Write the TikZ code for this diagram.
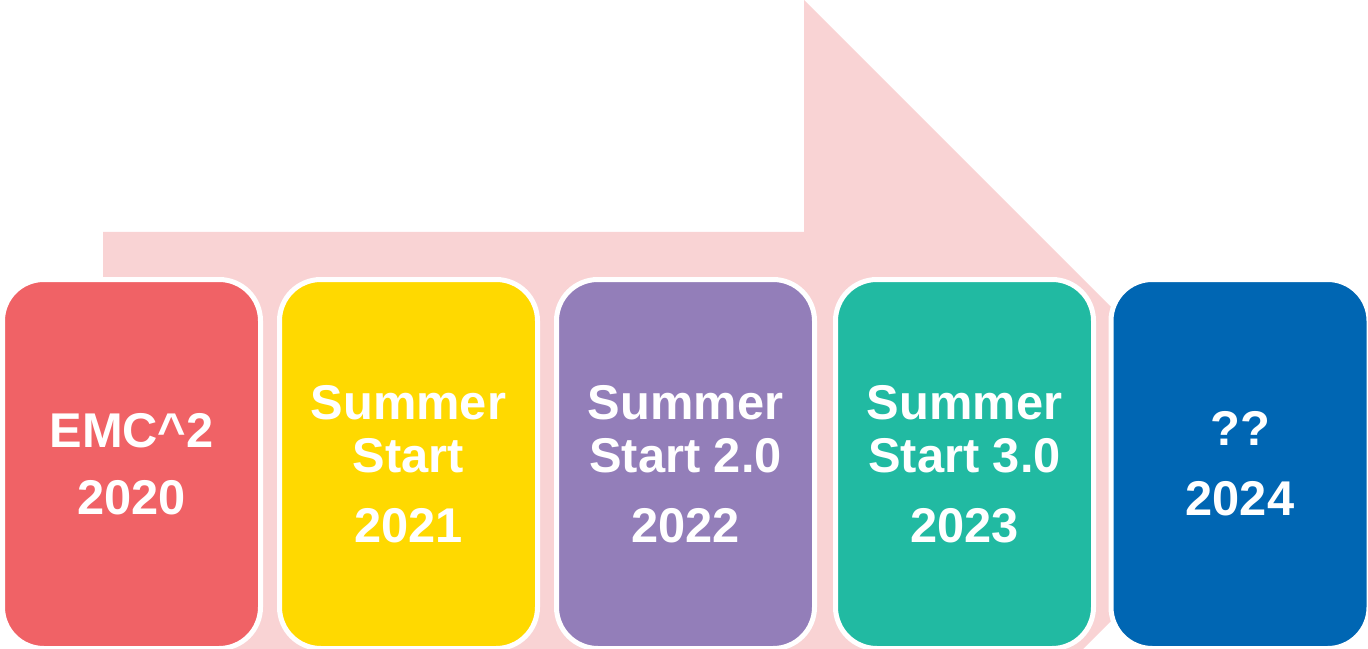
\documentclass[tikz,border=0pt]{standalone}
\usepackage{fontspec}
\setmainfont{Liberation Sans}
\definecolor{arrowpink}{HTML}{F9D3D4}
\definecolor{cred}{HTML}{F06266}
\definecolor{cyellow}{HTML}{FFD900}
\definecolor{cpurple}{HTML}{937EB9}
\definecolor{cteal}{HTML}{21BAA2}
\definecolor{cblue}{HTML}{0066B3}
\tikzset{
  yearbox/.style={draw=white, line width=3.75pt, rounded corners=31pt,
    minimum width=193.5pt, minimum height=276.75pt, inner sep=0pt,
    text=white, align=center,
    font=\bfseries\fontsize{36.6}{39.75}\selectfont}
}
\begin{document}
\begin{tikzpicture}[x=0.75pt,y=-0.75pt]
\clip (0,0) rectangle (1368,649);
\fill[arrowpink] (103,232) -- (804,232) -- (804,0) -- (1268,464) -- (804,928) -- (804,696) -- (103,696) -- cycle;
\node[yearbox, fill=cred] (b1) at (131.5,464) {EMC\^{}2\\[10.5pt]2020};
\node[yearbox, fill=cyellow] (b2) at (408.5,464) {Summer\\Start\\[12.75pt]2021};
\node[yearbox, fill=cpurple] (b3) at (685.5,464) {Summer\\Start 2.0\\[12.75pt]2022};
\node[yearbox, fill=cteal] (b4) at (964.5,464) {Summer\\Start 3.0\\[12.75pt]2023};
\node[yearbox, fill=cblue] (b5) at (1240,464) {??\\[12.75pt]2024};
\end{tikzpicture}
\end{document}
